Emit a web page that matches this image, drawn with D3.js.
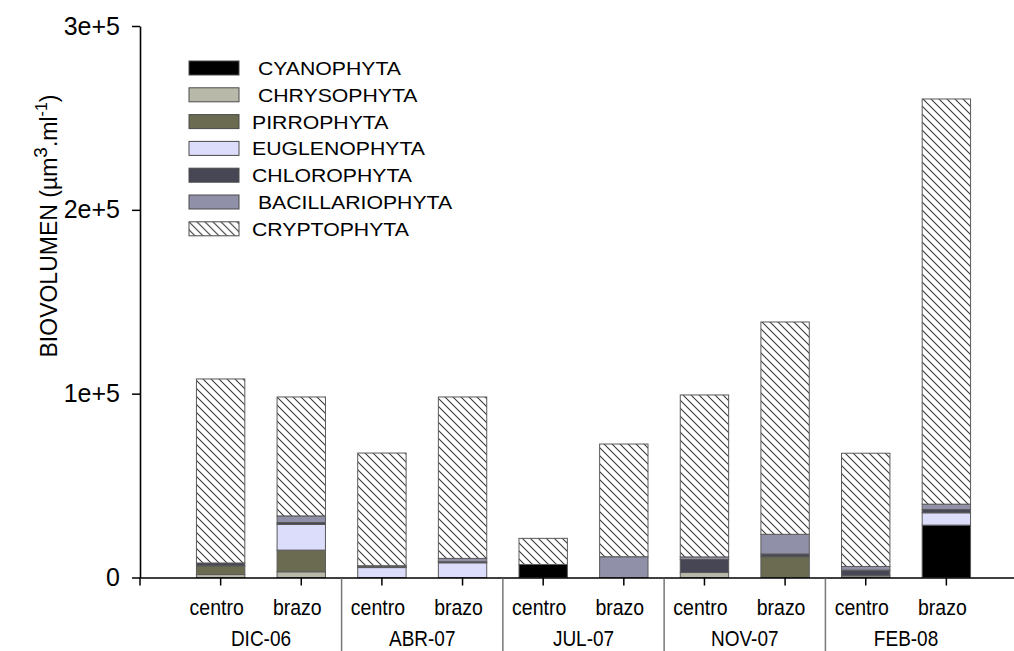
<!DOCTYPE html>
<html>
<head>
<meta charset="utf-8">
<script src="https://cdn.jsdelivr.net/npm/d3@7"></script>
<style>
  html, body { margin: 0; padding: 0; background: #fff; }
  svg { display: block; font-family: "Liberation Sans", Arial, sans-serif; }
</style>
</head>
<body>
<svg id="chart" width="1014" height="651"></svg>
<script>
// Sampling campaigns and sites within each campaign
const months = ["DIC-06", "ABR-07", "JUL-07", "NOV-07", "FEB-08"];
const sites = ["centro", "brazo"];

// Biovolume (µm3·ml-1) per phylum, one value per bar (centro, brazo for each month)
const cyanophyta      = [0,      0,     0,     0,     7100,  0,     0,     0,      0,     28500];
const chrysophyta     = [1600,   3100,  0,     0,     0,     0,     2700,  0,      900,   0];
const pirrophyta      = [4700,   11800, 0,     0,     0,     0,     0,     11300,  0,     0];
const euglenophyta    = [0,      14000, 5400,  8000,  0,     0,     0,     0,      0,     6700];
const chlorophyta     = [1600,   1000,  500,   600,   0,     0,     7100,  1500,   3100,  1800];
const bacillariophyta = [0,      3600,  500,   1800,  0,     11300, 1400,  10700,  2000,  2900];
const cryptophyta     = [100100, 64700, 61300, 87800, 14200, 61300, 88100, 115500, 61600, 220400];

// Legend labels (some carry a leading space, as printed)
const seriesNames = [" CYANOPHYTA", " CHRYSOPHYTA", "PIRROPHYTA", "EUGLENOPHYTA",
                     "CHLOROPHYTA", " BACILLARIOPHYTA", "CRYPTOPHYTA"];
const seriesValues = [cyanophyta, chrysophyta, pirrophyta, euglenophyta,
                      chlorophyta, bacillariophyta, cryptophyta];
const seriesFills = ["#000000", "#b9b9aa", "#6b6b52", "#dcdcfb", "#464655", "#9090a8", "url(#hatch)"];

const yTickValues = [0, 100000, 200000, 300000];
const yTickLabels = ["0", "1e+5", "2e+5", "3e+5"];

const svg = d3.select("#chart");

// Diagonal hatching used for Cryptophyta
const defs = svg.append("defs");
const pat = defs.append("pattern")
  .attr("id", "hatch")
  .attr("patternUnits", "userSpaceOnUse")
  .attr("width", 8).attr("height", 8);
pat.append("rect").attr("width", 8).attr("height", 8).attr("fill", "#fff");
pat.append("path")
  .attr("d", "M0,0 L8,8 M-2,6 L2,10 M6,-2 L10,2")
  .attr("stroke", "#3a3a3a").attr("stroke-width", 1.1);

// Bar keys in drawing order
const bars = [];
months.forEach(m => sites.forEach(s => bars.push({ month: m, site: s, key: m + "|" + s })));

const x = d3.scaleBand()
  .domain(bars.map(d => d.key))
  .range([140, 1027])
  .paddingInner(0.4)
  .paddingOuter(0.7);

const y = d3.scaleLinear().domain([0, 300000]).range([577.5, 26]);

// Stack the phyla for every bar
const rows = bars.map((b, i) => {
  const r = { key: b.key };
  seriesNames.forEach((n, k) => { r[k] = seriesValues[k][i]; });
  return r;
});
const stack = d3.stack().keys(d3.range(seriesNames.length))(rows);

const layers = svg.append("g").selectAll("g")
  .data(stack)
  .join("g")
  .attr("fill", (d, k) => seriesFills[k]);

layers.selectAll("rect")
  .data(d => d.filter(p => p[1] - p[0] > 0))
  .join("rect")
  .attr("x", p => x(p.data.key))
  .attr("width", x.bandwidth())
  .attr("y", p => y(p[1]))
  .attr("height", p => y(p[0]) - y(p[1]))
  .attr("stroke", "#5a5a5a")
  .attr("stroke-width", 1);

// Y axis
const yAxis = svg.append("g")
  .attr("transform", `translate(${x.range()[0]},0)`)
  .call(d3.axisLeft(y)
    .tickValues(yTickValues)
    .tickFormat((d, i) => yTickLabels[i])
    .tickSize(8)
    .tickSizeOuter(0)
    .tickPadding(12));
yAxis.select(".domain").attr("stroke", "#000").attr("stroke-width", 1.6);
yAxis.selectAll(".tick line").attr("stroke", "#000").attr("stroke-width", 1.5);
yAxis.selectAll(".tick text")
  .attr("font-size", 25)
  .attr("font-family", "Liberation Sans, Arial, sans-serif")
  .attr("fill", "#000");

// X axis: ticks under each bar
const xAxis = svg.append("g")
  .attr("transform", `translate(0,${y(0)})`)
  .call(d3.axisBottom(x).tickSize(8).tickSizeOuter(0).tickFormat(""));
xAxis.select(".domain").attr("stroke", "#000").attr("stroke-width", 1.6);
xAxis.selectAll(".tick line").attr("stroke", "#000").attr("stroke-width", 1.5);
xAxis.append("line")
  .attr("x1", x.range()[0]).attr("x2", x.range()[0])
  .attr("y1", 0).attr("y2", 8)
  .attr("stroke", "#000").attr("stroke-width", 1.5);

const center = key => x(key) + x.bandwidth() / 2;

// Site labels
svg.append("g").selectAll("text")
  .data(bars)
  .join("text")
  .attr("transform", d => `translate(${center(d.key) - 4},615) scale(1,1.1)`)
  .attr("text-anchor", "middle")
  .attr("font-size", 19.5)
  .text(d => d.site);

// Month labels centred under each pair
svg.append("g").selectAll("text")
  .data(months)
  .join("text")
  .attr("transform", m => `translate(${(center(m + "|centro") + center(m + "|brazo")) / 2},646) scale(0.95,1.12)`)
  .attr("text-anchor", "middle")
  .attr("font-size", 20)
  .text(m => m);

// Separators between months
svg.append("g").selectAll("line")
  .data(months.slice(0, -1))
  .join("line")
  .attr("x1", (m, i) => (center(m + "|brazo") + center(months[i + 1] + "|centro")) / 2)
  .attr("x2", (m, i) => (center(m + "|brazo") + center(months[i + 1] + "|centro")) / 2)
  .attr("y1", y(0) + 1)
  .attr("y2", 651)
  .attr("stroke", "#777")
  .attr("stroke-width", 1.5);

// Y axis title with superscripts
const title = svg.append("text")
  .attr("transform", "translate(57,226) rotate(-90)")
  .attr("text-anchor", "middle")
  .attr("font-size", 23)
  .attr("fill", "#000");
title.append("tspan").text("BIOVOLUMEN (µm");
title.append("tspan").attr("font-size", 19).attr("dy", -10).text("3");
title.append("tspan").attr("dy", 10).text(".ml");
title.append("tspan").attr("font-size", 16).attr("dy", -10).text("-1");
title.append("tspan").attr("dy", 10).text(")");

// Legend
const legend = svg.append("g").attr("transform", "translate(189,61)");
const item = legend.selectAll("g")
  .data(seriesNames)
  .join("g")
  .attr("transform", (d, i) => `translate(0,${i * 26.8})`);
item.append("rect")
  .attr("width", 50).attr("height", 14)
  .attr("fill", (d, i) => seriesFills[i])
  .attr("stroke", "#4a4a4a").attr("stroke-width", 1);
item.append("text")
  .attr("transform", "translate(63,14) scale(1.18,1)")
  .attr("font-size", 18)
  .style("white-space", "pre")
  .text(d => d);
</script>
</body>
</html>
